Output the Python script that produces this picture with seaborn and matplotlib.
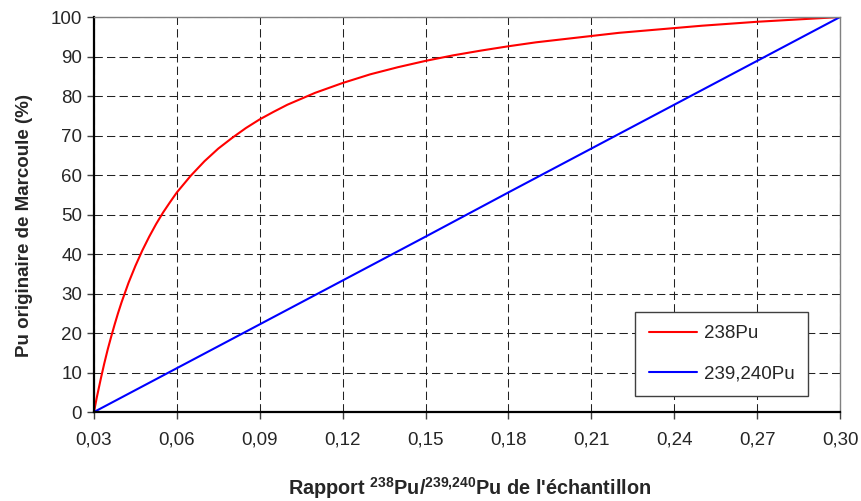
import matplotlib
matplotlib.use("Agg")
import matplotlib.pyplot as plt
import seaborn as sns
import pandas as pd
from matplotlib.ticker import FuncFormatter

# Data
ratio_238 = [0.03, 0.031, 0.0325, 0.0337, 0.035, 0.0362, 0.0375, 0.0387, 0.04, 0.0425,
             0.045, 0.0475, 0.05, 0.0525, 0.055, 0.0575, 0.06, 0.065, 0.07, 0.075,
             0.08, 0.085, 0.09, 0.095, 0.10, 0.11, 0.12, 0.13, 0.14, 0.15, 0.16,
             0.17, 0.18, 0.19, 0.20, 0.21, 0.22, 0.23, 0.24, 0.25, 0.26, 0.27,
             0.28, 0.29, 0.30]
pct_238 = [0, 3.6, 8.5, 12.2, 15.9, 19.0, 22.2, 25.0, 27.8, 32.7,
           37.0, 40.9, 44.4, 47.6, 50.5, 53.1, 55.6, 59.8, 63.5, 66.7,
           69.4, 71.9, 74.1, 76.0, 77.8, 80.8, 83.3, 85.5, 87.3, 88.9, 90.3,
           91.5, 92.6, 93.6, 94.4, 95.2, 96.0, 96.6, 97.2, 97.8, 98.3, 98.8,
           99.2, 99.6, 100]
ratio_239 = [0.03, 0.06, 0.09, 0.12, 0.15, 0.18, 0.21, 0.24, 0.27, 0.30]
pct_239 = [0, 11.1, 22.2, 33.3, 44.4, 55.6, 66.7, 77.8, 88.9, 100]
series_names = ["238Pu", "239,240Pu"]
x_ticks = [0.03, 0.06, 0.09, 0.12, 0.15, 0.18, 0.21, 0.24, 0.27, 0.30]
y_ticks = [0, 10, 20, 30, 40, 50, 60, 70, 80, 90, 100]

df = pd.concat([
    pd.DataFrame({"x": ratio_238, "y": pct_238, "serie": series_names[0]}),
    pd.DataFrame({"x": ratio_239, "y": pct_239, "serie": series_names[1]}),
])

sns.set_style("white")
plt.rcParams["font.family"] = ["Liberation Sans", "DejaVu Sans"]
plt.rcParams["mathtext.fontset"] = "custom"
plt.rcParams["mathtext.rm"] = "Liberation Sans"
plt.rcParams["mathtext.bf"] = "Liberation Sans:bold"

fig = plt.figure(figsize=(8.62, 5.01), dpi=100)
ax = fig.add_axes([0.109, 0.1776, 0.8655, 0.7884])

sns.lineplot(data=df, x="x", y="y", hue="serie", sort=True,
             palette={series_names[0]: "#FF0000", series_names[1]: "#0000FF"},
             linewidth=1.5, ax=ax, legend=True, estimator=None)

ax.set_xlim(0.03, 0.30)
ax.set_ylim(0, 100)
ax.set_xticks(x_ticks)
ax.set_yticks(y_ticks)
ax.xaxis.set_major_formatter(FuncFormatter(lambda v, p: f"{v:.2f}".replace(".", ",")))
ax.tick_params(axis="both", which="major", labelsize=13.5, direction="out",
               length=5, width=1, color="#404040", bottom=True, left=True)
ax.tick_params(axis="x", pad=9)

ax.grid(True, color="#222222", linestyle=(0, (8, 4)), linewidth=0.75)
ax.set_axisbelow(True)

for s in ["left", "bottom"]:
    ax.spines[s].set_color("black")
    ax.spines[s].set_linewidth(1.6)
for s in ["top", "right"]:
    ax.spines[s].set_color("#808080")
    ax.spines[s].set_linewidth(1.0)

ax.set_ylabel("Pu originaire de Marcoule (%)", fontsize=13.5, fontweight="bold")
ax.yaxis.set_label_coords(-0.082, 0.473)
ax.set_xlabel(r"Rapport $^{\mathbf{238}}$Pu/$^{\mathbf{239{,}240}}$Pu de l'échantillon",
              fontsize=14.3, fontweight="bold")
ax.xaxis.set_label_coords(0.503, -0.16)

leg = ax.legend(loc="lower right", bbox_to_anchor=(0.957, 0.04), fontsize=13.5,
                frameon=True, fancybox=False, edgecolor="#404040", framealpha=1,
                handlelength=2.6, labelspacing=1.25, borderpad=0.72, handletextpad=0.35,
                borderaxespad=0)
leg.get_frame().set_linewidth(1.0)

fig.savefig("out.png", dpi=100)
